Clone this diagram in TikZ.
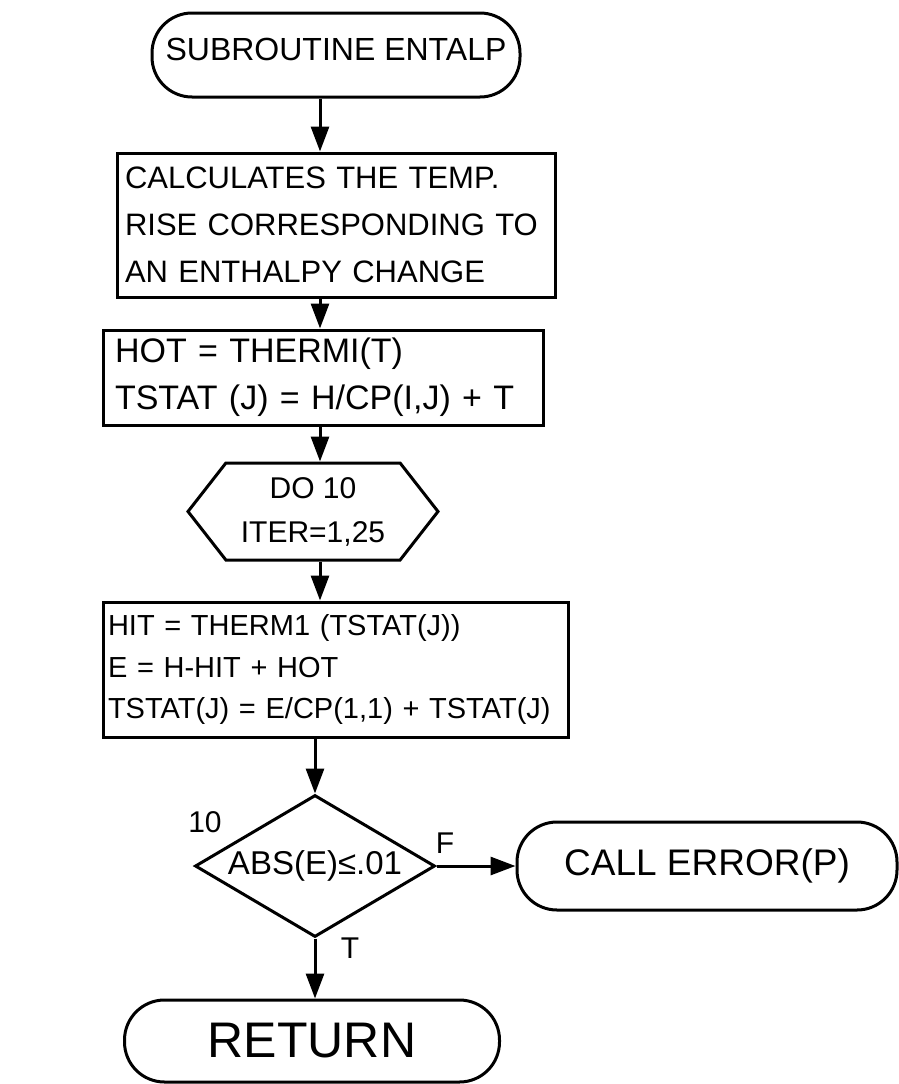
\documentclass[tikz,border=0pt]{standalone}
\usepackage{fontspec}
\setmainfont{Liberation Sans}
\usetikzlibrary{arrows.meta,shapes.geometric,shapes.symbols}

\begin{document}
\begin{tikzpicture}[x=1pt,y=-1pt,line width=3pt,
  term/.style={draw,rounded corners=40pt,inner sep=0pt},
  box/.style={draw,inner ysep=4pt,align=left},
  flow/.style={-{Triangle[length=25pt,width=18pt]}},
  lbl/.style={inner sep=0pt,font=\fontsize{30}{36}\selectfont}]
\path[use as bounding box] (0,0) rectangle (899,1084);
\coordinate (spine) at (320,0);
% boxes, top to bottom
\node[term,minimum width=368pt,minimum height=84pt,text depth=12pt,font=\fontsize{32}{40}\selectfont] (start) at (336,55) {SUBROUTINE ENTALP};
\node[box,inner xsep=8pt,text width=422pt,minimum height=144pt,font=\fontsize{31}{47}\selectfont] (calc) at (336,225) {CALCULATES THE TEMP.\\RISE CORRESPONDING TO\\AN ENTHALPY CHANGE};
\node[box,inner xsep=12pt,text width=416pt,minimum height=95pt,font=\fontsize{34}{47}\selectfont] (hot) at (323,377.5) {HOT = THERMI(T)\\TSTAT (J) = H/CP(I,J) + T};
\node[signal,signal to=east and west,signal pointer angle=104,draw,minimum width=250pt,minimum height=97pt,inner sep=0pt,align=center,font=\fontsize{30}{44}\selectfont] (doloop) at (313,511.5) {DO 10\\ITER=1,25};
\node[box,inner xsep=5pt,text width=455pt,minimum height=135pt,font=\fontsize{29}{41.5}\selectfont] (hit) at (335.5,669.5) {HIT = THERM1 (TSTAT(J))\\E = H-HIT + HOT\\TSTAT(J) = E/CP(1,1) + TSTAT(J)};
\node[diamond,draw,aspect=1.69,minimum width=240pt,minimum height=142pt,inner sep=0pt,font=\fontsize{33}{36}\selectfont] (test) at (315,866) {ABS(E)≤.01};
\node[term,minimum width=380pt,minimum height=88pt,font=\fontsize{37}{40}\selectfont] (callerr) at (707,866) {CALL ERROR(P)};
\node[term,minimum width=375pt,minimum height=82pt,font=\fontsize{50}{60}\selectfont] (ret) at (312,1041) {RETURN};
% labels
\node[lbl] (lten) at (205,822) {10};
\node[lbl] (lf) at (445,843) {F};
\node[lbl] (lt) at (350,948) {T};
% connectors
\draw[flow] (start.south -| spine) -- (calc.north -| spine);
\draw[flow] (calc.south -| spine) -- (hot.north -| spine);
\draw[flow] (hot.south -| spine) -- (doloop.north -| spine);
\draw[flow] (doloop.south -| spine) -- (hit.north -| spine);
\draw[flow] (hit.south -| test.north) -- (test.north);
\draw[flow] (test.east) -- (callerr.west);
\draw[flow] (test.south) -- (ret.north -| test.south);
\end{tikzpicture}
\end{document}
